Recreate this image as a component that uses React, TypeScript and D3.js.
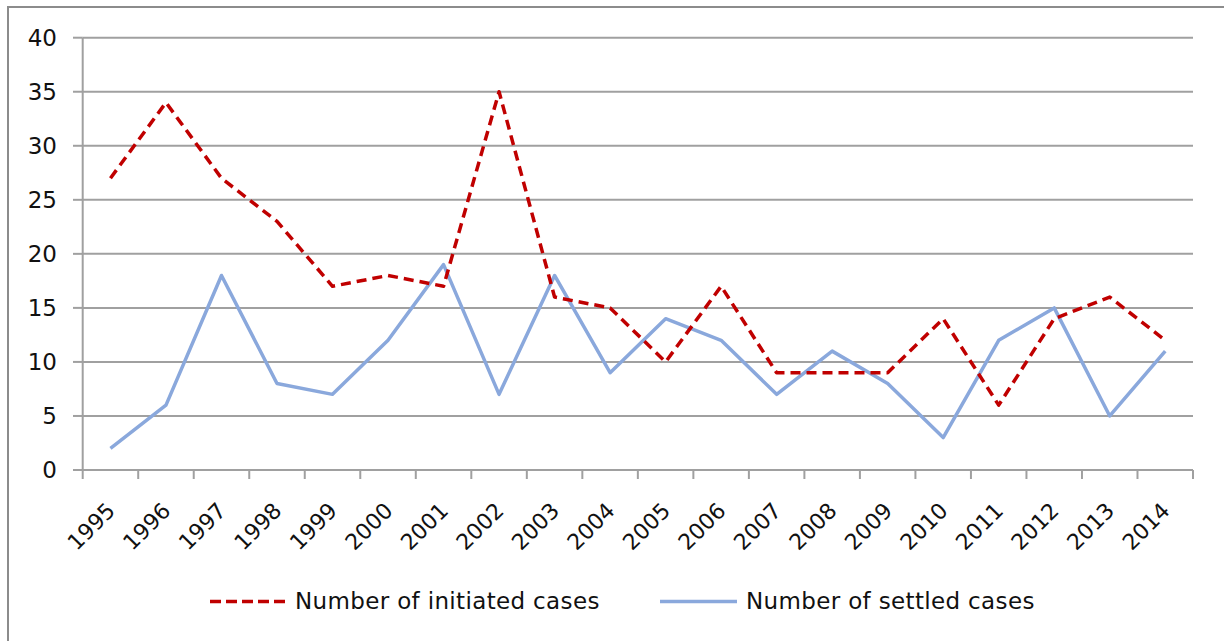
import React from "react";
import * as d3 from "d3";

const years = ["1995","1996","1997","1998","1999","2000","2001","2002","2003","2004","2005","2006","2007","2008","2009","2010","2011","2012","2013","2014"];
const initiated = [27, 34, 27, 23, 17, 18, 17, 35, 16, 15, 10, 17, 9, 9, 9, 14, 6, 14, 16, 12];
const settled = [2, 6, 18, 8, 7, 12, 19, 7, 18, 9, 14, 12, 7, 11, 8, 3, 12, 15, 5, 11];
const yTicks = [0, 5, 10, 15, 20, 25, 30, 35, 40];
const seriesNames = ["Number of initiated cases", "Number of settled cases"];

const W = 1224, H = 641;
const left = 82.7, right = 1193, top = 37.7, bottom = 470;
const FONT = "'DejaVu Sans', Verdana, sans-serif";
const RED = "#c00000";
const BLUE = "#8aa8dc";
const GRID = "#a0a0a0";
const TEXT = "#111";

export default function App() {
  const x = d3.scaleBand<string>().domain(years).range([left, right]).padding(0);
  const y = d3.scaleLinear().domain([0, 40]).range([bottom, top]);
  const cx = (yr: string) => (x(yr) as number) + x.bandwidth() / 2;
  const line = d3.line<number>().x((_, i) => cx(years[i])).y((d) => y(d));

  const tickXs = years.map((yr) => x(yr) as number).concat([right]);

  return (
    <svg width={W} height={H} style={{ position: "absolute", left: 0, top: 0, background: "#fff" }}>
      <rect x={8} y={7} width={1300} height={700} fill="#fff" stroke="#8c8c8c" strokeWidth={2} />
      {yTicks.map((t) => (
        <g key={t}>
          {t > 0 && <line x1={left} x2={right} y1={y(t)} y2={y(t)} stroke={GRID} strokeWidth={2} />}
          <line x1={73} x2={left} y1={y(t)} y2={y(t)} stroke={GRID} strokeWidth={2} />
          <text x={57} y={y(t)} dy="0.36em" textAnchor="end" fontFamily={FONT} fontSize={23} fill={TEXT}>{t}</text>
        </g>
      ))}
      <line x1={left} x2={left} y1={top} y2={bottom} stroke={GRID} strokeWidth={2} />
      <line x1={left} x2={right} y1={bottom} y2={bottom} stroke={GRID} strokeWidth={2} />
      {tickXs.map((tx, i) => (
        <line key={i} x1={tx} x2={tx} y1={bottom} y2={bottom + 9} stroke={GRID} strokeWidth={2} />
      ))}
      {years.map((yr) => (
        <text key={yr} transform={`translate(${cx(yr) + 6},${512}) rotate(-45)`} textAnchor="end" fontFamily={FONT} fontSize={22} fill={TEXT}>{yr}</text>
      ))}
      <path d={line(settled) || ""} fill="none" stroke={BLUE} strokeWidth={3.5} strokeLinejoin="round" />
      <path d={line(initiated) || ""} fill="none" stroke={RED} strokeWidth={3.5} strokeDasharray="10,6" strokeLinejoin="round" />
      <line x1={210} x2={287} y1={601.5} y2={601.5} stroke={RED} strokeWidth={3.5} strokeDasharray="11,5" />
      <text x={295} y={609} fontFamily={FONT} fontSize={23} letterSpacing={0.35} fill={TEXT}>{seriesNames[0]}</text>
      <line x1={660} x2={737} y1={601.5} y2={601.5} stroke={BLUE} strokeWidth={3.5} />
      <text x={746} y={609} fontFamily={FONT} fontSize={23} letterSpacing={0.35} fill={TEXT}>{seriesNames[1]}</text>
    </svg>
  );
}
